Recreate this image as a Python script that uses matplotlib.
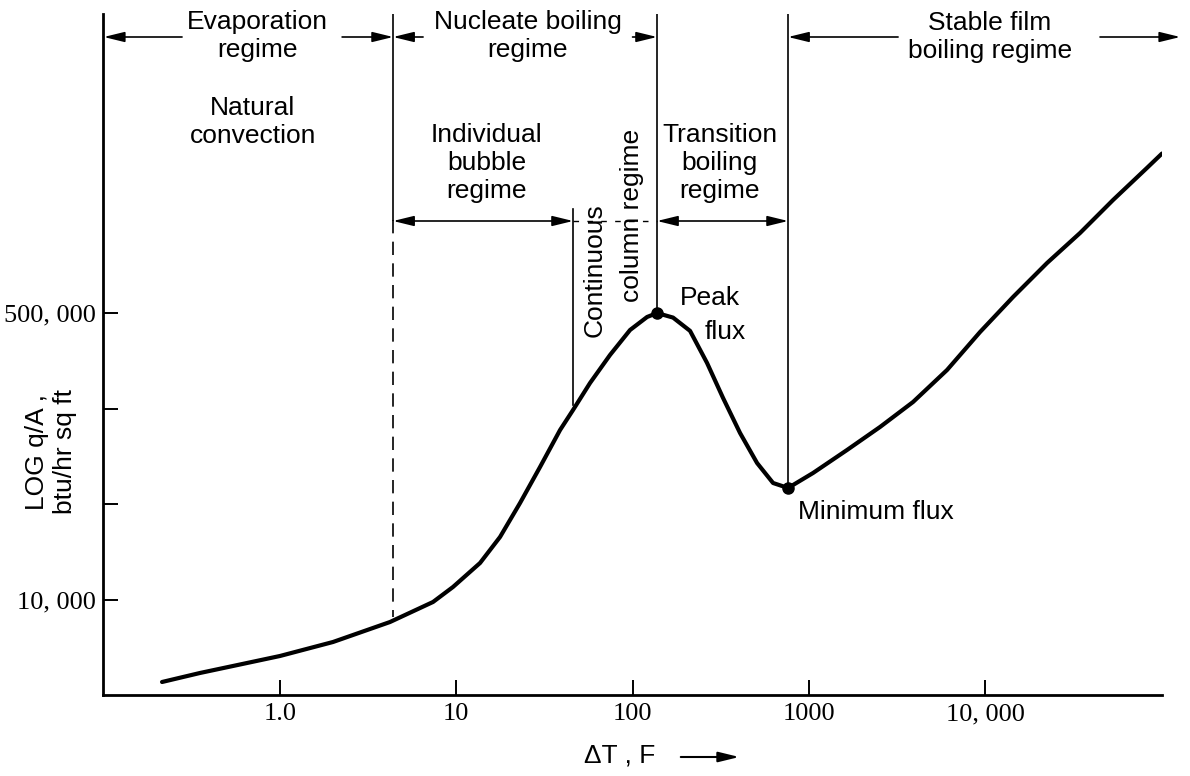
import numpy as np
import matplotlib
matplotlib.use('Agg')
import matplotlib.pyplot as plt

plt.rcParams['font.family'] = ['Liberation Sans', 'DejaVu Sans']

# boiling curve (delta T in F, q/A in btu/hr sq ft)
dT = [0.2141, 0.3516, 0.5412, 1.0, 1.998, 4.208, 7.38, 9.58, 13.64, 17.71,
      23.0, 29.87, 38.8, 45.96, 57.4, 74.5, 96.8, 120.9, 137.7, 169.7, 212,
      264.7, 326.3, 407.3, 508.6, 627, 762.8, 1057, 1648, 2537, 3904, 6086,
      9368, 14420, 22480, 34590, 53240, 83010, 100900]
q = [3269, 3697, 4067, 4661, 5640, 7407, 9732, 11940, 16560, 23610,
     37520, 61320, 101500, 133300, 192700, 282200, 396800, 473700, 500000,
     470000, 392000, 253100, 157000, 97430, 64730, 49280, 46040, 56480,
     77290, 105800, 148700, 230000, 386100, 622300, 989300, 1.489e6,
     2.335e6, 3.62e6, 4.4e6]

# peak and minimum flux points
flux_pts_x = [137.7, 762.8]
flux_pts_y = [500000, 46040]

# regime boundaries on the delta T axis
b_evap = 4.38      # evaporation / nucleate
b_col = 45.96      # individual bubble / continuous column
b_peak = 137.7     # nucleate / transition
b_min = 762.8      # transition / film

x_ticks = [1.0, 10, 100, 1000, 10000]
x_labels = ['1.0', '10', '100', '1000', '10, 000']
y_ticks = [10000, 37000, 136000, 500000]
y_labels = ['10, 000', '', '', '500, 000']

W, H = 1190, 776
fig = plt.figure(figsize=(W / 100, H / 100), dpi=100)
ax = fig.add_axes([103 / W, 1 - 695 / H, (1162 - 103) / W, (695 - 14) / H])

ax.set_xscale('log')
ax.set_yscale('log')
ax.set_xlim(0.099, 1.009e5)
ax.set_ylim(2738, 2.948e7)

ax.plot(dT, q, color='k', lw=3, solid_capstyle='round', solid_joinstyle='round')
ax.plot(flux_pts_x, flux_pts_y, 'o', color='k', ms=8)

ax.spines['top'].set_visible(False)
ax.spines['right'].set_visible(False)
ax.spines['left'].set_linewidth(2)
ax.spines['bottom'].set_linewidth(2)

ax.set_xticks(x_ticks)
ax.set_xticklabels(x_labels)
ax.set_yticks(y_ticks)
ax.set_yticklabels(y_labels)
ax.minorticks_off()
ax.tick_params(axis='both', direction='in', length=11, width=1.4)
ax.tick_params(axis='x', pad=6)
ax.tick_params(axis='y', pad=5)
for lab in ax.get_xticklabels() + ax.get_yticklabels():
    lab.set_family(['Liberation Serif', 'DejaVu Serif'])
    lab.set_fontsize(19)

trans = ax.get_xaxis_transform()

def fy(py):
    # pixel row -> axes fraction
    return (695 - py) / 681

# vertical regime lines
ax.plot([b_evap, b_evap], [fy(14), fy(220)], color='k', lw=1.2, transform=trans)
ax.plot([b_evap, b_evap], [fy(220), fy(617)], color='k', lw=1.2, ls=(0, (8, 5)),
        transform=trans)
ax.plot([b_col, b_col], [fy(209), fy(405)], color='k', lw=1.2, transform=trans)
ax.plot([b_peak, b_peak], [fy(14), fy(312)], color='k', lw=1.2, transform=trans)
ax.plot([b_min, b_min], [fy(14), fy(487)], color='k', lw=1.2, transform=trans)

def arrow(x0, x1, py, style='-|>'):
    ax.annotate('', xy=(x1, fy(py)), xytext=(x0, fy(py)), xycoords=trans,
                textcoords=trans, annotation_clip=False,
                arrowprops=dict(arrowstyle=style + ',head_length=0.9,head_width=0.22',
                                color='k', lw=1.2, shrinkA=0, shrinkB=0,
                                mutation_scale=14))

# top row
arrow(0.278, 0.1, 37)
arrow(2.25, b_evap, 37)
arrow(6.48, b_evap, 37)
arrow(100, b_peak, 37)
arrow(3210, b_min, 37)
arrow(44900, 1.28e5, 37)
# second row
arrow(b_evap, b_col, 221, '<|-|>')
arrow(b_peak, b_min, 221, '<|-|>')
ax.plot([b_col, b_peak], [fy(221), fy(221)], color='k', lw=1, ls=(0, (4, 6)),
        transform=trans)

fs = 19
def label(x, py, s, **kw):
    ax.text(x, fy(py), s, transform=trans, fontsize=fs, ha=kw.pop('ha', 'center'),
            va=kw.pop('va', 'top'), multialignment='center', linespacing=1.22, **kw)

label(0.741, 10, 'Evaporation\nregime')
label(0.70, 96, 'Natural\nconvection')
label(25.5, 10, 'Nucleate boiling\nregime')
label(14.9, 123, 'Individual\nbubble\nregime')
label(313, 123, 'Transition\nboiling\nregime')
label(10670, 11, 'Stable film\nboiling regime')
label(61.3, 270, 'Continuous', rotation=90, va='center')
label(99.4, 215, 'column regime', rotation=90, va='center')
label(186, 298, 'Peak', ha='left', va='center')
label(258, 332, 'flux', ha='left', va='center')
label(869, 512, 'Minimum flux', ha='left', va='center')

fig.text(51 / W, 1 - 452 / H, 'LOG q/A ,\nbtu/hr sq ft', rotation=90, ha='center',
         va='center', fontsize=fs, multialignment='center', linespacing=1.22)
fig.text(620 / W, 1 - 755 / H, '\u0394T , F', ha='center', va='center', fontsize=fs)
fig.patches.append(matplotlib.patches.FancyArrowPatch(
    (678 / W, 1 - 757 / H), (742 / W, 1 - 757 / H), transform=fig.transFigure,
    arrowstyle='-|>,head_length=0.9,head_width=0.22', mutation_scale=14,
    color='k', lw=1.5))

fig.savefig('out.png', dpi=100)
